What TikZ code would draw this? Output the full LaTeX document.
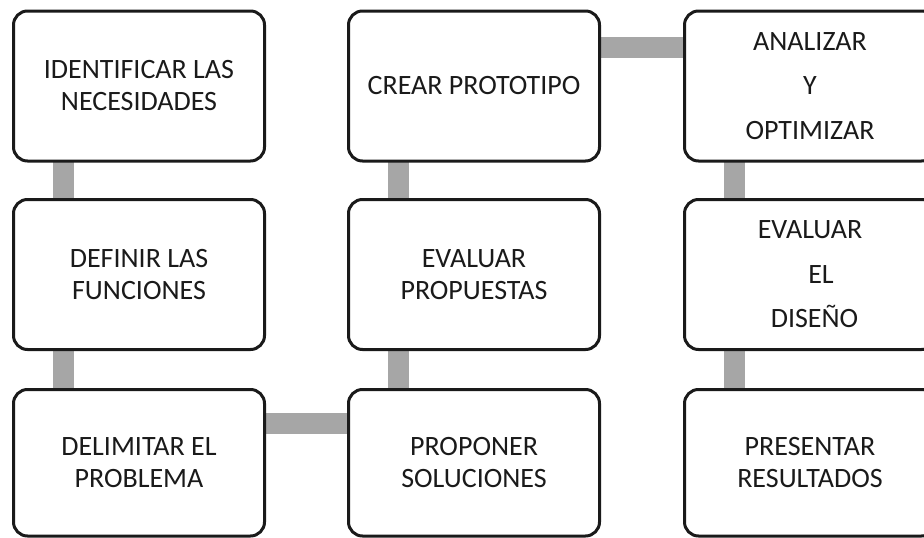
\documentclass[tikz,border=0pt]{standalone}
\usepackage{fontspec}
\setmainfont{Carlito}
\usetikzlibrary{backgrounds}
\definecolor{linkgray}{HTML}{A6A6A6}
\definecolor{ink}{HTML}{1A1A1A}
\begin{document}
\begin{tikzpicture}[x=1pt,y=-1pt,
  stepbox/.style={draw=ink, line width=3pt, rounded corners=14pt, fill=white,
    minimum width=251pt, minimum height=150pt, align=center, inner sep=0pt, outer sep=0pt,
    font=\fontsize{28}{32}\selectfont, text=ink},
  lowbox/.style={stepbox, minimum height=146.5pt},
  link/.style={draw=linkgray, line width=21pt}]
\useasboundingbox (0,0) rectangle (924,538);
\clip (0,0) rectangle (924,538);
\node[stepbox] (b1) at (139,86) {IDENTIFICAR LAS\\NECESIDADES};
\node[stepbox] (b2) at (139,274.5) {DEFINIR LAS\\FUNCIONES};
\node[lowbox] (b3) at (139,462.75) {DELIMITAR EL\\PROBLEMA};
\node[lowbox] (b4) at (474,462.75) {PROPONER\\SOLUCIONES};
\node[stepbox] (b5) at (474,274.5) {EVALUAR\\PROPUESTAS};
\node[stepbox] (b6) at (474,86) {CREAR PROTOTIPO};
\node[stepbox] (b7) at (810,86) {ANALIZAR\\[12.5pt]Y\\[12.5pt]OPTIMIZAR};
\node[stepbox] (b8) at (810,274.5) {EVALUAR\\[12.5pt]\hspace*{22pt}EL\\[12.5pt]\hspace*{9pt}DISEÑO};
\node[lowbox] (b9) at (810,462.75) {PRESENTAR\\RESULTADOS};
\begin{scope}[on background layer]
\draw[link] ([xshift=50pt]b1.south west) -- ([xshift=50pt]b2.north west);
\draw[link] ([xshift=50pt]b2.south west) -- ([xshift=50pt]b3.north west);
\draw[link] ([yshift=-34pt]b3.north east) -- ([yshift=-34pt]b4.north west);
\draw[link] ([xshift=49.5pt]b4.north west) -- ([xshift=49.5pt]b5.south west);
\draw[link] ([xshift=49.5pt]b5.north west) -- ([xshift=49.5pt]b6.south west);
\draw[link] ([yshift=-36pt]b6.north east) -- ([yshift=-36pt]b7.north west);
\draw[link] ([xshift=50pt]b7.south west) -- ([xshift=50pt]b8.north west);
\draw[link] ([xshift=50pt]b8.south west) -- ([xshift=50pt]b9.north west);
\end{scope}
\end{tikzpicture}
\end{document}
